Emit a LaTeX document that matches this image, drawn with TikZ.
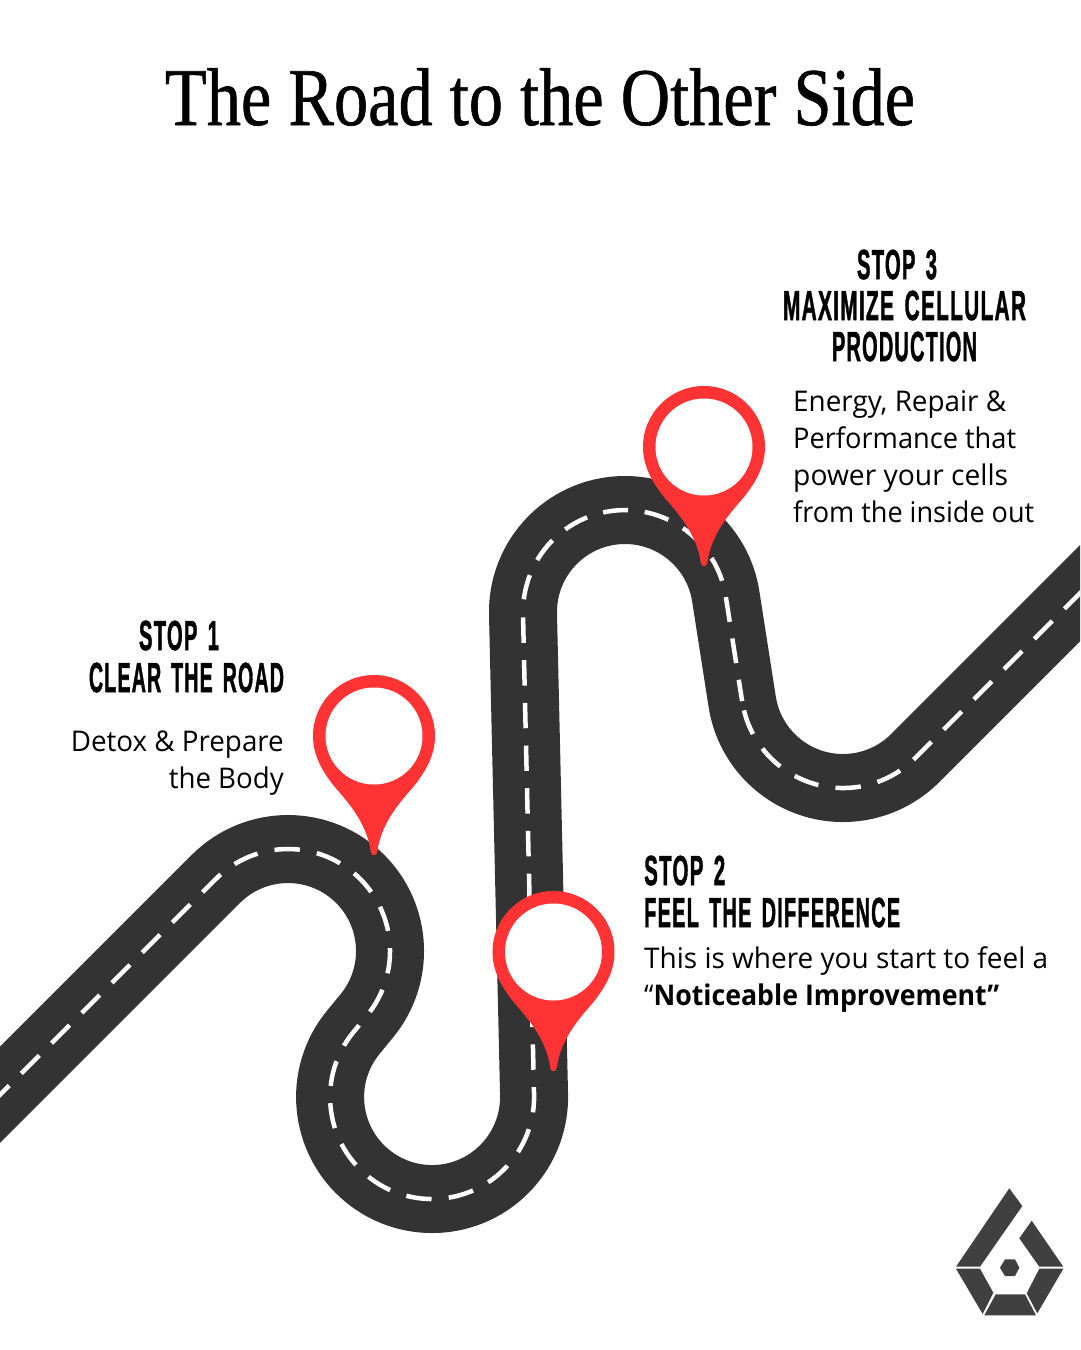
\documentclass[tikz,border=0pt]{standalone}
\usepackage{fontspec}
\usepackage{graphicx}
\setmainfont{Open Sans}
\newfontfamily\titlefont[FakeBold=0.8]{Liberation Serif}
\newfontfamily\headfont[FakeBold=1.6,LetterSpace=6,WordSpace=1.5]{Liberation Sans Bold}
\newbox\fitbox
\newcommand\fitw[2]{\setbox\fitbox=\hbox{#2}\pgfmathsetmacro\fitr{#1/\the\wd\fitbox}\scalebox{\fitr}[1]{\copy\fitbox}}
\definecolor{roadc}{HTML}{333333}
\definecolor{pinc}{HTML}{FF3333}
\definecolor{logoc}{HTML}{404040}
\tikzset{
  x=1pt,y=1pt,
  titletext/.style={anchor=base,inner sep=0pt,font=\titlefont\fontsize{82}{82}\selectfont,text=black},
  headtext/.style={anchor=base,inner sep=0pt,font=\headfont\fontsize{42}{42}\selectfont,text=black},
  bodytext/.style={anchor=base west,inner sep=0pt,font=\fontsize{28.5}{37}\selectfont,text=black},
  bodyright/.style={bodytext,anchor=base east},
  roadbed/.style={draw=roadc,line width=68pt},
  roadline/.style={draw=white,line width=4.5pt},
  logopart/.style={fill=logoc,draw=none},
  pinbody/.style={fill=pinc,draw=none},
  pinhole/.style={fill=white,draw=none,circle,minimum size=97pt,inner sep=0pt},
}
\newcommand\roadpath{(-30,-1124.8) -- (215.9,-878.9)
  arc[start angle=135,end angle=-39.56,radius=102]
  -- ++(-13.2,-16.1)
  arc[start angle=140.44,end angle=361.3,radius=102]
  -- (523,-614.3)
  arc[start angle=181.3,end angle=8.5,radius=102]
  -- (742.1,-701.1)
  arc[start angle=188.5,end angle=315,radius=102]
  -- (1110,-563.2)}
\newcommand\pin[2]{%
  \begin{scope}[shift={(#1,-#2)}]
  \path[pinbody] (-61,0)
    arc[start angle=180,end angle=0,radius=61]
    .. controls (61,-20) and (51,-36) .. (40,-50)
    .. controls (28,-64) and (7,-86) .. (3.2,-116)
    .. controls (3,-119) and (1,-119) .. (0,-119)
    .. controls (-1,-119) and (-3,-119) .. (-3.2,-116)
    .. controls (-7,-86) and (-28,-64) .. (-40,-50)
    .. controls (-51,-36) and (-61,-20) .. (-61,0) -- cycle;
  \end{scope}
}
\begin{document}
\begin{tikzpicture}
\useasboundingbox (0,0) rectangle (1080,-1350);
\fill[white] (0,0) rectangle (1080,-1350);
\begin{scope}
\clip (0,0) rectangle (1080,-1350);
\draw[roadbed] \roadpath;
% centre line, in the three runs that the reference's dashes fall into
\draw[roadline,dash pattern=on 25.4pt off 17.3pt,dash phase=12.7pt]
  (-30,-1124.8) -- (215.9,-878.9)
  arc[start angle=135,end angle=-39.56,radius=102]
  -- ++(-13.2,-16.1)
  arc[start angle=140.44,end angle=361.3,radius=102]
  -- (523,-614.3);
\draw[roadline,dash pattern=on 25pt off 16.8pt]
  (523.8,-599.3)
  arc[start angle=172.8,end angle=8.5,radius=102]
  -- (742.1,-701.1);
\draw[roadline,dash pattern=on 25.4pt off 17.3pt]
  (743.96,-710.35)
  arc[start angle=193.8,end angle=315,radius=102]
  -- (1110,-563.2);
\end{scope}
\node[titletext] (title) at (540,-125) {\fitw{750}{The Road to the Other Side}};
% pins
\pin{374}{736}
\node[pinhole] (pinA) at (374,-736) {};
\pin{553.5}{952}
\node[pinhole] (pinB) at (553.5,-952) {};
\pin{704}{447}
\node[pinhole] (pinC) at (704,-447) {};
% stop 1
\node[headtext] (s1a) at (179,-650) {\fitw{80}{STOP 1}};
\node[headtext] (s1b) at (186.5,-692) {\fitw{195}{CLEAR THE ROAD}};
\node[bodyright] (s1c) at (284,-751.3) {\fitw{213}{Detox \& Prepare}};
\node[bodyright] (s1d) at (284,-788.3) {\fitw{115}{the Body}};
% stop 2
\node[headtext,anchor=base west] (s2a) at (644,-885) {\fitw{81}{STOP 2}};
\node[headtext,anchor=base west] (s2b) at (644,-927) {\fitw{256}{FEEL THE DIFFERENCE}};
\node[bodytext] (s2c) at (644,-968.3) {\fitw{404}{This is where you start to feel a}};
\node[bodytext] (s2d) at (644,-1005.3) {\fitw{355}{“\textbf{Noticeable Improvement”}}};
% stop 3
\node[headtext] (s3a) at (897,-279) {\fitw{80}{STOP 3}};
\node[headtext] (s3b) at (904.5,-320) {\fitw{243}{MAXIMIZE CELLULAR}};
\node[headtext] (s3c) at (904.5,-361) {\fitw{145}{PRODUCTION}};
\node[bodytext] (s3d) at (793,-411.3) {\fitw{213}{Energy, Repair \&}};
\node[bodytext] (s3e) at (793,-448.3) {\fitw{223}{Performance that}};
\node[bodytext] (s3f) at (793,-485.3) {\fitw{215}{power your cells}};
\node[bodytext] (s3g) at (793,-522.3) {\fitw{241}{from the inside out}};
% logo
\fill[logopart] (1009.3,-1188.3) -- (1022.3,-1206) -- (980,-1266.7) -- (956,-1266.7) -- cycle;
\fill[logopart] (1031.7,-1220.7) -- (1063.3,-1266.7) -- (1039.3,-1266.7) -- (1019.3,-1238.3) -- cycle;
\fill[logopart] (956,-1268.7) -- (980,-1268.7) -- (993.3,-1292.7) -- (982.7,-1314) -- cycle;
\fill[logopart] (995.7,-1294.3) -- (1025,-1294.3) -- (1036,-1315.3) -- (984.3,-1315.3) -- cycle;
\fill[logopart] (1039.3,-1268.7) -- (1063.3,-1268.7) -- (1037.3,-1313.3) -- (1026.7,-1293.3) -- cycle;
\fill[logopart] (1000,-1267.7) -- (1005,-1259.3) -- (1015,-1259.3) -- (1019.3,-1267.7) -- (1015,-1276) -- (1005,-1276) -- cycle;
\end{tikzpicture}
\end{document}
